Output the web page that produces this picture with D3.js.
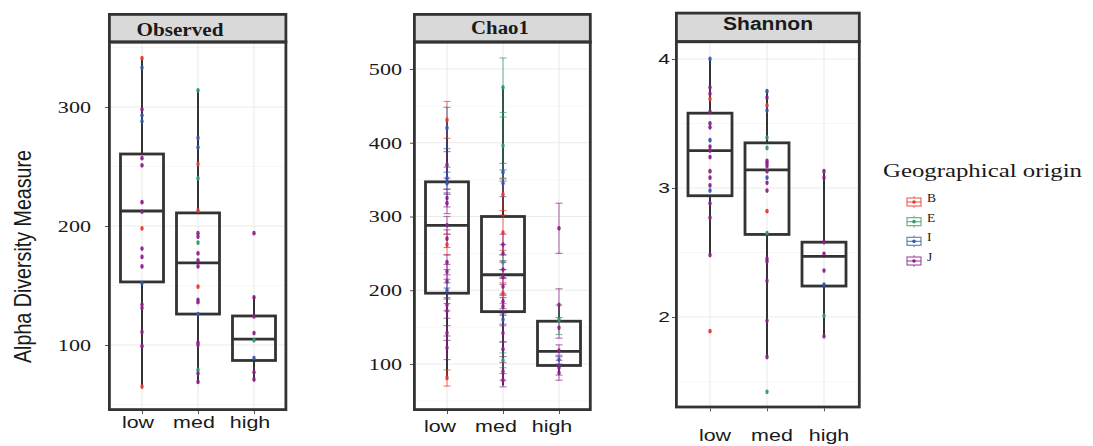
<!DOCTYPE html>
<html>
<head>
<meta charset="utf-8">
<script src="https://cdn.jsdelivr.net/npm/d3@7"></script>
<style>
  html, body { margin: 0; padding: 0; background: #ffffff; }
  svg { display: block; }
</style>
</head>
<body>
<svg id="chart" width="1093" height="446"></svg>
<script>
// ---- data -------------------------------------------------------------
const categories = ["low", "med", "high"];
const origins = ["B", "E", "I", "J"];
const originColors = ["#E8392B", "#2E9B66", "#3559B0", "#8C1F8A"];

// Observed richness
const observedLow = [341, 333, 298, 293, 288, 257, 251, 220, 212, 198, 181, 174, 166, 152, 134, 131, 111, 99, 65];
const observedLowOrigin = ["B","I","J","I","I","J","J","J","J","B","J","J","J","I","J","J","J","J","B"];
const observedMed = [314, 274, 266, 252, 240, 213, 194, 191, 186, 177, 171, 166, 149, 138, 136, 126, 102, 100, 79, 76, 69];
const observedMedOrigin = ["E","I","I","B","E","B","J","J","E","J","J","J","B","J","J","I","J","J","E","J","J"];
const observedHigh = [194, 140, 124, 110, 104, 89, 77, 71];
const observedHighOrigin = ["J","J","J","J","E","I","J","J"];
const observedQ1 = [153, 126, 87];
const observedMedian = [212.6, 169, 105];
const observedQ3 = [260.5, 211, 124.4];
const observedWhiskerLow = [65, 68, 70];
const observedWhiskerHigh = [341, 315, 141];
const observedTicks = [100, 200, 300];
const observedMinor = [50, 150, 250, 350];

// Chao1 estimate with its standard error
const chao1Low = [431, 420, 370, 352, 345, 325, 318, 288, 270, 262, 238, 225, 212, 200, 180, 172, 142, 122, 81];
const chao1LowSE = [25, 28, 18, 15, 15, 12, 14, 12, 12, 14, 10, 10, 9, 10, 8, 10, 10, 16, 11];
const chao1LowOrigin = ["B","I","J","I","I","J","J","J","J","B","J","J","J","I","J","J","J","J","B"];
const chao1Med = [475, 360, 345, 330, 396, 278, 262, 250, 238, 228, 218, 205, 196, 185, 178, 160, 142, 120, 105, 90, 78];
const chao1MedSE = [40, 12, 18, 22, 45, 24, 14, 12, 10, 12, 10, 12, 14, 10, 12, 8, 12, 10, 10, 12, 9];
const chao1MedOrigin = ["E","I","I","B","E","B","J","J","E","J","J","J","B","J","J","I","J","J","E","J","J"];
const chao1High = [284, 180, 149, 118, 160, 106, 95, 88];
const chao1HighSE = [34, 22, 14, 8, 20, 6, 10, 10];
const chao1HighOrigin = ["J","J","J","J","E","I","J","J"];
const chao1Q1 = [196, 171, 98];
const chao1Median = [288, 221, 117];
const chao1Q3 = [347, 300, 158];
const chao1WhiskerLow = [81, 71, 88];
const chao1WhiskerHigh = [433, 476, 180];
const chao1Ticks = [100, 200, 300, 400, 500];
const chao1Minor = [50, 150, 250, 350, 450];

// Shannon index
const shannonLow = [4.00, 3.78, 3.73, 3.69, 3.59, 3.50, 3.47, 3.37, 3.32, 3.29, 3.24, 3.13, 3.08, 3.02, 2.98, 2.88, 2.77, 2.48, 1.89];
const shannonLowOrigin = ["I","J","J","B","J","J","J","I","J","J","J","J","J","J","I","J","J","J","B"];
const shannonMed = [3.75, 3.70, 3.64, 3.60, 3.39, 3.31, 3.21, 3.19, 3.17, 3.13, 3.08, 3.04, 2.98, 2.82, 2.65, 2.45, 2.43, 2.28, 1.97, 1.69, 1.42];
const shannonMedOrigin = ["I","J","B","I","E","E","J","J","J","J","I","J","J","B","E","J","J","J","J","J","E"];
const shannonHigh = [3.13, 3.08, 2.58, 2.49, 2.36, 2.25, 2.01, 1.85];
const shannonHighOrigin = ["J","J","J","J","J","I","E","J"];
const shannonQ1 = [2.94, 2.64, 2.24];
const shannonMedian = [3.29, 3.14, 2.47];
const shannonQ3 = [3.58, 3.35, 2.58];
const shannonWhiskerLow = [2.48, 1.69, 1.85];
const shannonWhiskerHigh = [4.00, 3.75, 3.12];
const shannonTicks = [2, 3, 4];
const shannonMinor = [1.5, 2.5, 3.5];

// ---- helpers ----------------------------------------------------------
const svg = d3.select("#chart");
const color = d3.scaleOrdinal().domain(origins).range(originColors);
const SERIF = "'Liberation Serif', 'DejaVu Serif', serif";
const SANS = "'Liberation Sans', Arial, sans-serif";
const INK = "#333333";

function stretch(sel, k) {
  sel.each(function () {
    const w = this.getComputedTextLength();
    d3.select(this).attr("textLength", w * k).attr("lengthAdjust", "spacingAndGlyphs");
  });
}
function fitTo(sel, width) {
  sel.attr("textLength", width).attr("lengthAdjust", "spacingAndGlyphs");
}

function samples(values, originList, se) {
  return values.map((v, i) => ({ value: v, origin: originList[i], se: se ? se[i] : 0 }));
}

function drawPanel(p) {
  const g = svg.append("g");
  const x = d3.scalePoint().domain(categories).range(p.xRange);
  const y = d3.scaleLinear().domain(p.yAnchor).range(p.yAnchorPx);

  // grid
  g.append("g").selectAll("line.minor").data(p.minor).join("line")
    .attr("x1", p.left).attr("x2", p.right)
    .attr("y1", d => y(d)).attr("y2", d => y(d))
    .attr("stroke", "#F3F3F3").attr("stroke-width", 0.7);
  g.append("g").selectAll("line.major").data(p.ticks).join("line")
    .attr("x1", p.left).attr("x2", p.right)
    .attr("y1", d => y(d)).attr("y2", d => y(d))
    .attr("stroke", "#EBEBEB").attr("stroke-width", 1.1);
  g.append("g").selectAll("line.vmajor").data(categories).join("line")
    .attr("x1", d => x(d)).attr("x2", d => x(d))
    .attr("y1", p.stripBottom).attr("y2", p.bottom)
    .attr("stroke", "#EBEBEB").attr("stroke-width", 1.1);

  // box plots
  const half = p.boxWidth / 2;
  const boxes = g.append("g").selectAll("g").data(categories).join("g");
  boxes.append("line")
    .attr("x1", d => x(d)).attr("x2", d => x(d))
    .attr("y1", (d, i) => y(p.whiskerHigh[i])).attr("y2", (d, i) => y(p.q3[i]))
    .attr("stroke", INK).attr("stroke-width", 2);
  boxes.append("line")
    .attr("x1", d => x(d)).attr("x2", d => x(d))
    .attr("y1", (d, i) => y(p.q1[i])).attr("y2", (d, i) => y(p.whiskerLow[i]))
    .attr("stroke", INK).attr("stroke-width", 2);
  boxes.append("rect")
    .attr("x", d => x(d) - half).attr("width", p.boxWidth)
    .attr("y", (d, i) => y(p.q3[i]))
    .attr("height", (d, i) => y(p.q1[i]) - y(p.q3[i]))
    .attr("fill", "none").attr("stroke", INK).attr("stroke-width", 2.8);
  boxes.append("line")
    .attr("x1", d => x(d) - half).attr("x2", d => x(d) + half)
    .attr("y1", (d, i) => y(p.median[i])).attr("y2", (d, i) => y(p.median[i]))
    .attr("stroke", INK).attr("stroke-width", 2.8);

  // samples
  categories.forEach((c, ci) => {
    const pts = p.groups[ci];
    const cx = x(c);
    if (p.errorbars) {
      const eb = g.append("g").selectAll("g").data(pts).join("g")
        .attr("stroke", d => color(d.origin)).attr("stroke-opacity", 0.6).attr("stroke-width", 1.2);
      eb.append("line").attr("x1", cx).attr("x2", cx)
        .attr("y1", d => y(d.value + d.se)).attr("y2", d => y(d.value - d.se));
      eb.append("line").attr("x1", cx - 3.5).attr("x2", cx + 3.5)
        .attr("y1", d => y(d.value + d.se)).attr("y2", d => y(d.value + d.se));
      eb.append("line").attr("x1", cx - 3.5).attr("x2", cx + 3.5)
        .attr("y1", d => y(d.value - d.se)).attr("y2", d => y(d.value - d.se));
    }
    g.append("g").selectAll("ellipse").data(pts).join("ellipse")
      .attr("cx", cx).attr("cy", d => y(d.value))
      .attr("rx", 1.7).attr("ry", 2.4)
      .attr("fill", d => color(d.origin)).attr("fill-opacity", 0.95);
  });

  // frame and strip
  g.append("rect")
    .attr("x", p.left).attr("y", p.top)
    .attr("width", p.right - p.left).attr("height", p.stripBottom - p.top)
    .attr("fill", "#D9D9D9").attr("stroke", INK).attr("stroke-width", 2.8);
  g.append("rect")
    .attr("x", p.left).attr("y", p.stripBottom)
    .attr("width", p.right - p.left).attr("height", p.bottom - p.stripBottom)
    .attr("fill", "none").attr("stroke", INK).attr("stroke-width", 2.8);
  g.append("text")
    .attr("x", p.titleX).attr("y", p.titleY)
    .attr("text-anchor", "middle")
    .attr("font-family", p.titleFont).attr("font-weight", "bold")
    .attr("font-size", 18).attr("fill", "#1a1a1a")
    .text(p.title)
    .call(fitTo, p.titleWidth);

  // y axis
  const yAxis = g.append("g")
    .attr("transform", `translate(${p.left - 1.4},0)`)
    .call(d3.axisLeft(y).tickValues(p.ticks).tickSize(3).tickPadding(p.tickPad).tickFormat(d3.format("d")));
  yAxis.select(".domain").remove();
  yAxis.selectAll(".tick line").attr("stroke", "#555");
  yAxis.selectAll(".tick text")
    .attr("font-family", p.tickFont).attr("font-size", p.tickSize).attr("fill", "#1a1a1a")
    .call(stretch, p.tickStretch);

  // x axis
  const xAxis = g.append("g")
    .attr("transform", `translate(0,${p.bottom + 1.4})`)
    .call(d3.axisBottom(x).tickSize(3).tickSizeOuter(0).tickFormat(() => ""));
  xAxis.select(".domain").remove();
  xAxis.selectAll(".tick line").attr("stroke", "#555");
  g.append("g").selectAll("text").data(categories).join("text")
    .attr("x", d => x(d) + p.labelShift).attr("y", p.labelBaseline)
    .attr("text-anchor", "middle")
    .attr("font-family", SANS).attr("font-size", 16.5).attr("fill", "#1a1a1a")
    .text(d => d)
    .call(stretch, 1.3);
}

// ---- panels -----------------------------------------------------------
drawPanel({
  title: "Observed", titleFont: SERIF, titleX: 180, titleY: 35.5, titleWidth: 87,
  left: 109.4, right: 285.9, top: 14.4, stripBottom: 42, bottom: 409.6,
  xRange: [142, 254], boxWidth: 43,
  yAnchor: [100, 300], yAnchorPx: [345, 107],
  ticks: observedTicks, minor: observedMinor,
  tickFont: SERIF, tickSize: 17, tickStretch: 1.3, tickPad: 14,
  labelShift: -4, labelBaseline: 428,
  q1: observedQ1, median: observedMedian, q3: observedQ3,
  whiskerLow: observedWhiskerLow, whiskerHigh: observedWhiskerHigh,
  errorbars: false,
  groups: [
    samples(observedLow, observedLowOrigin),
    samples(observedMed, observedMedOrigin),
    samples(observedHigh, observedHighOrigin)
  ]
});

drawPanel({
  title: "Chao1", titleFont: SERIF, titleX: 500, titleY: 33.5, titleWidth: 58,
  left: 414.4, right: 590.3, top: 14.4, stripBottom: 42, bottom: 409.6,
  xRange: [447, 559], boxWidth: 43,
  yAnchor: [100, 500], yAnchorPx: [364, 69],
  ticks: chao1Ticks, minor: chao1Minor,
  tickFont: SERIF, tickSize: 17, tickStretch: 1.3, tickPad: 8,
  labelShift: -7, labelBaseline: 432,
  q1: chao1Q1, median: chao1Median, q3: chao1Q3,
  whiskerLow: chao1WhiskerLow, whiskerHigh: chao1WhiskerHigh,
  errorbars: true,
  groups: [
    samples(chao1Low, chao1LowOrigin, chao1LowSE),
    samples(chao1Med, chao1MedOrigin, chao1MedSE),
    samples(chao1High, chao1HighOrigin, chao1HighSE)
  ]
});

drawPanel({
  title: "Shannon", titleFont: SANS, titleX: 768, titleY: 29.5, titleWidth: 90,
  left: 676.4, right: 859.3, top: 13.1, stripBottom: 41.7, bottom: 407,
  xRange: [710, 824], boxWidth: 44,
  yAnchor: [2, 4], yAnchorPx: [317, 59],
  ticks: shannonTicks, minor: shannonMinor,
  tickFont: SANS, tickSize: 15, tickStretch: 1.4, tickPad: 2,
  labelShift: 5, labelBaseline: 441,
  q1: shannonQ1, median: shannonMedian, q3: shannonQ3,
  whiskerLow: shannonWhiskerLow, whiskerHigh: shannonWhiskerHigh,
  errorbars: false,
  groups: [
    samples(shannonLow, shannonLowOrigin),
    samples(shannonMed, shannonMedOrigin),
    samples(shannonHigh, shannonHighOrigin)
  ]
});

// ---- shared y title -------------------------------------------------------
svg.append("text")
  .attr("transform", "translate(31,256.5) rotate(-90)")
  .attr("text-anchor", "middle")
  .attr("font-family", SANS).attr("font-size", 24).attr("fill", "#1a1a1a")
  .text("Alpha Diversity Measure")
  .call(fitTo, 213);

// ---- legend ---------------------------------------------------------------
const legend = svg.append("g");
legend.append("text")
  .attr("x", 883).attr("y", 177)
  .attr("font-family", SERIF).attr("font-size", 18).attr("fill", "#1a1a1a")
  .text("Geographical origin")
  .call(fitTo, 199);

const keyY = d3.scalePoint().domain(origins).range([202, 261]);
const keys = legend.selectAll("g.key").data(origins).join("g")
  .attr("class", "key")
  .attr("transform", d => `translate(914,${keyY(d)})`);
keys.append("line").attr("x1", 0).attr("x2", 0).attr("y1", -6).attr("y2", 6)
  .attr("stroke", d => color(d)).attr("stroke-opacity", 0.7).attr("stroke-width", 1);
keys.append("rect").attr("x", -7).attr("y", -4).attr("width", 14).attr("height", 8)
  .attr("fill", "#ffffff").attr("stroke", d => color(d)).attr("stroke-opacity", 0.75).attr("stroke-width", 1.2);
keys.append("line").attr("x1", -7).attr("x2", 7).attr("y1", 0).attr("y2", 0)
  .attr("stroke", d => color(d)).attr("stroke-opacity", 0.75).attr("stroke-width", 1.2);
keys.append("circle").attr("r", 1.8).attr("fill", d => color(d));
keys.append("text")
  .attr("x", 13).attr("y", 0)
  .attr("font-family", SERIF).attr("font-size", 13.5).attr("fill", "#1a1a1a")
  .text(d => d);
</script>
</body>
</html>
